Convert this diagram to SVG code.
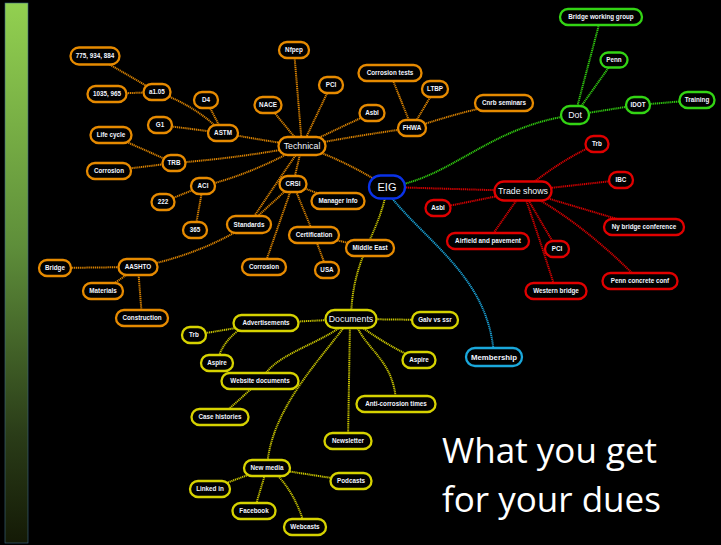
<svg xmlns="http://www.w3.org/2000/svg" width="721" height="545" viewBox="0 0 721 545">
<defs>
<linearGradient id="bar" x1="0" y1="0" x2="0" y2="1">
<stop offset="0" stop-color="#92d050"/>
<stop offset="0.45" stop-color="#5e8e3a"/>
<stop offset="0.8" stop-color="#2a3c18"/>
<stop offset="1" stop-color="#141a06"/>
</linearGradient>
<style>
.n rect{fill:#000;stroke-width:2.3}
.o rect{stroke:#e68a00}
.g rect{stroke:#33d414}
.r rect{stroke:#e00000}
.y rect{stroke:#d6d200}
.b rect{stroke:#0a32e8}
.c rect{stroke:#1aa8dc}
.n text{font-family:"Liberation Sans",Arial,sans-serif;font-weight:bold;font-size:6.3px;fill:#f2f5ff;text-anchor:middle}
.n text.big{font-weight:normal;font-size:8.8px}
.n text.eig{font-weight:normal;font-size:11px}
.n text.mem{font-size:7.8px}
#connectors path{fill:none;stroke-width:2;stroke-dasharray:1.2 0.7}
.co{stroke:#d98200}
.cg{stroke:#30c810}
.cr{stroke:#d40000}
.cy{stroke:#c8c400}
.cc{stroke:#1aa0d4}
.title{font-family:"Open Sans","Liberation Sans",sans-serif;font-size:35px;fill:#fff}
</style>
</defs>
<rect x="0" y="0" width="721" height="545" fill="#000"/>
<rect x="5" y="3" width="23" height="540" fill="url(#bar)" stroke="#3c6a86" stroke-width="0.6"/>
<g id="connectors">
<path class="co" d="M95,56 L157,92"/>
<path class="co" d="M107,94 L157,92"/>
<path class="co" d="M157,92 Q195,105 223,133"/>
<path class="co" d="M206,100 L223,133"/>
<path class="co" d="M160,125 L223,133"/>
<path class="co" d="M223,133 Q260,140 302,146"/>
<path class="co" d="M111,135 L174,163"/>
<path class="co" d="M109,171 L174,163"/>
<path class="co" d="M174,163 Q240,158 302,146"/>
<path class="co" d="M203,186 Q250,175 302,146"/>
<path class="co" d="M163,202 L203,186"/>
<path class="co" d="M195,230 L203,186"/>
<path class="co" d="M249,224 Q275,185 302,146"/>
<path class="co" d="M138,267 Q200,255 249,224"/>
<path class="co" d="M55,268 L138,267"/>
<path class="co" d="M103,291 L138,267"/>
<path class="co" d="M142,318 L138,267"/>
<path class="co" d="M294,50 L302,146"/>
<path class="co" d="M331,85 L302,146"/>
<path class="co" d="M268,105 L302,146"/>
<path class="co" d="M372,113 Q345,125 302,146"/>
<path class="co" d="M412,128 Q360,135 302,146"/>
<path class="co" d="M390,73 L412,128"/>
<path class="co" d="M435,89 L412,128"/>
<path class="co" d="M504,103 Q460,112 412,128"/>
<path class="co" d="M302,146 Q345,160 387,187"/>
<path class="co" d="M293,184 L302,146"/>
<path class="co" d="M338,201 L293,184"/>
<path class="co" d="M314,235 L293,184"/>
<path class="co" d="M264,267 L293,184"/>
<path class="co" d="M249,224 L293,184"/>
<path class="co" d="M370,248 L314,235"/>
<path class="co" d="M327,270 L314,235"/>
<path class="cg" d="M387,187 C450,180 490,125 575,115"/>
<path class="cg" d="M601,17 L575,115"/>
<path class="cg" d="M614,60 L575,115"/>
<path class="cg" d="M575,115 L638,105"/>
<path class="cg" d="M638,105 L697,100"/>
<path class="cr" d="M387,187 L523,191"/>
<path class="cr" d="M438,208 L523,191"/>
<path class="cr" d="M597,144 Q560,160 523,191"/>
<path class="cr" d="M621,180 L523,191"/>
<path class="cr" d="M644,227 L523,191"/>
<path class="cr" d="M488,241 L523,191"/>
<path class="cr" d="M557,249 L523,191"/>
<path class="cr" d="M556,291 Q540,240 523,191"/>
<path class="cr" d="M640,281 Q580,220 523,191"/>
<path class="cc" d="M391,197 C430,245 490,280 494,357"/>
<path class="cy" d="M385,198 C375,240 352,260 351,319"/>
<path class="cy" d="M351,319 L435,320"/>
<path class="cy" d="M266,323 L351,319"/>
<path class="cy" d="M194,335 L266,323"/>
<path class="cy" d="M217,363 Q222,338 250,323"/>
<path class="cy" d="M262,381 C270,355 320,345 347,322"/>
<path class="cy" d="M220,417 L260,381"/>
<path class="cy" d="M419,360 Q385,345 355,322"/>
<path class="cy" d="M396,404 C395,360 365,350 355,322"/>
<path class="cy" d="M348,441 L350,322"/>
<path class="cy" d="M267,468 C270,410 320,360 348,322"/>
<path class="cy" d="M210,489 L267,468"/>
<path class="cy" d="M254,511 L267,468"/>
<path class="cy" d="M305,527 Q295,490 270,468"/>
<path class="cy" d="M351,481 L267,468"/>
</g>
<g id="n1" class="n o"><rect x="70.5" y="47.5" width="49" height="17" rx="8.5"/><text x="95" y="58.2">775, 934, 884</text></g>
<g id="n2" class="n o"><rect x="87.5" y="86" width="39" height="16" rx="8"/><text x="107" y="96.2">1035, 965</text></g>
<g id="n3" class="n o"><rect x="143.5" y="84" width="27" height="16" rx="8"/><text x="157" y="94.2">a1.05</text></g>
<g id="n4" class="n o"><rect x="194" y="92" width="24" height="16" rx="8"/><text x="206" y="102.2">D4</text></g>
<g id="n5" class="n o"><rect x="148" y="117" width="24" height="16" rx="8"/><text x="160" y="127.2">G1</text></g>
<g id="n6" class="n o"><rect x="208" y="125" width="30" height="16" rx="8"/><text x="223" y="135.2">ASTM</text></g>
<g id="n7" class="n o"><rect x="90.5" y="127" width="41" height="16" rx="8"/><text x="111" y="137.2">Life cycle</text></g>
<g id="n8" class="n o"><rect x="162.5" y="155" width="23" height="16" rx="8"/><text x="174" y="165.2">TRB</text></g>
<g id="n9" class="n o"><rect x="87" y="163" width="44" height="16" rx="8"/><text x="109" y="173.2">Corrosion</text></g>
<g id="n10" class="n o"><rect x="191" y="178" width="24" height="16" rx="8"/><text x="203" y="188.2">ACI</text></g>
<g id="n11" class="n o"><rect x="151.5" y="194" width="23" height="16" rx="8"/><text x="163" y="204.2">222</text></g>
<g id="n12" class="n o"><rect x="183" y="222" width="24" height="16" rx="8"/><text x="195" y="232.2">365</text></g>
<g id="n13" class="n o"><rect x="227" y="216" width="44" height="17" rx="8.5"/><text x="249" y="226.7">Standards</text></g>
<g id="n14" class="n o"><rect x="118.5" y="259" width="39" height="16" rx="8"/><text x="138" y="269.2">AASHTO</text></g>
<g id="n15" class="n o"><rect x="39" y="260" width="32" height="16" rx="8"/><text x="55" y="270.2">Bridge</text></g>
<g id="n16" class="n o"><rect x="83" y="283" width="40" height="16" rx="8"/><text x="103" y="293.2">Materials</text></g>
<g id="n17" class="n o"><rect x="116" y="310" width="52" height="16" rx="8"/><text x="142" y="320.2">Construction</text></g>
<g id="n18" class="n o"><rect x="279" y="42" width="30" height="16" rx="8"/><text x="294" y="52.2">Nfpep</text></g>
<g id="n19" class="n o"><rect x="319" y="77" width="24" height="16" rx="8"/><text x="331" y="87.2">PCI</text></g>
<g id="n20" class="n o"><rect x="254.5" y="97" width="27" height="16" rx="8"/><text x="268" y="107.2">NACE</text></g>
<g id="n21" class="n o"><rect x="278.5" y="137" width="47" height="18" rx="9"/><text class="big" x="302" y="149.1">Technical</text></g>
<g id="n22" class="n o"><rect x="359.5" y="105" width="25" height="16" rx="8"/><text x="372" y="115.2">Asbl</text></g>
<g id="n23" class="n o"><rect x="358.5" y="65" width="63" height="16" rx="8"/><text x="390" y="75.2">Corrosion tests</text></g>
<g id="n24" class="n o"><rect x="422" y="81" width="26" height="16" rx="8"/><text x="435" y="91.2">LTBP</text></g>
<g id="n25" class="n o"><rect x="398" y="120" width="28" height="16" rx="8"/><text x="412" y="130.2">FHWA</text></g>
<g id="n26" class="n o"><rect x="475" y="95" width="58" height="16" rx="8"/><text x="504" y="105.2">Cnrb seminars</text></g>
<g id="n27" class="n o"><rect x="279.5" y="176" width="27" height="16" rx="8"/><text x="293" y="186.2">CRSI</text></g>
<g id="n28" class="n o"><rect x="311.5" y="193" width="53" height="16" rx="8"/><text x="338" y="203.2">Manager info</text></g>
<g id="n29" class="n o"><rect x="289" y="227" width="50" height="16" rx="8"/><text x="314" y="237.2">Certification</text></g>
<g id="n30" class="n o"><rect x="346" y="240" width="48" height="16" rx="8"/><text x="370" y="250.2">Middle East</text></g>
<g id="n31" class="n o"><rect x="242" y="259" width="44" height="16" rx="8"/><text x="264" y="269.2">Corrosion</text></g>
<g id="n32" class="n o"><rect x="315" y="262" width="24" height="16" rx="8"/><text x="327" y="272.2">USA</text></g>
<g id="eig" class="n b"><rect x="369" y="175.5" width="36" height="23" rx="11.5"/><text class="eig" x="387" y="190.9">EIG</text></g>
<g id="g1" class="n g"><rect x="560" y="9" width="82" height="16" rx="8"/><text x="601" y="19.2">Bridge working group</text></g>
<g id="g2" class="n g"><rect x="600.5" y="52.5" width="27" height="15" rx="7.5"/><text x="614" y="62.2">Penn</text></g>
<g id="g3" class="n g"><rect x="561" y="106" width="28" height="18" rx="9"/><text class="big" x="575" y="118.1">Dot</text></g>
<g id="g4" class="n g"><rect x="626" y="97" width="24" height="16" rx="8"/><text x="638" y="107.2">IDOT</text></g>
<g id="g5" class="n g"><rect x="679.5" y="92" width="35" height="16" rx="8"/><text x="697" y="102.2">Training</text></g>
<g id="r1" class="n r"><rect x="494.5" y="181.5" width="57" height="19" rx="9.5"/><text class="big" x="523" y="194.1">Trade shows</text></g>
<g id="r2" class="n r"><rect x="585.5" y="136" width="23" height="16" rx="8"/><text x="597" y="146.2">Trb</text></g>
<g id="r3" class="n r"><rect x="609" y="172" width="24" height="16" rx="8"/><text x="621" y="182.2">IBC</text></g>
<g id="r4" class="n r"><rect x="425.5" y="200" width="25" height="16" rx="8"/><text x="438" y="210.2">Asbl</text></g>
<g id="r5" class="n r"><rect x="604" y="219" width="80" height="16" rx="8"/><text x="644" y="229.2">Ny bridge conference</text></g>
<g id="r6" class="n r"><rect x="447" y="233" width="82" height="16" rx="8"/><text x="488" y="243.2">Airfield and pavement</text></g>
<g id="r7" class="n r"><rect x="545" y="241" width="24" height="16" rx="8"/><text x="557" y="251.2">PCI</text></g>
<g id="r8" class="n r"><rect x="602.5" y="273" width="75" height="16" rx="8"/><text x="640" y="283.2">Penn concrete conf</text></g>
<g id="r9" class="n r"><rect x="525.5" y="283" width="61" height="16" rx="8"/><text x="556" y="293.2">Western bridge</text></g>
<g id="mem" class="n c"><rect x="466" y="348" width="56" height="18" rx="9"/><text class="mem" x="494" y="359.7">Membership</text></g>
<g id="y1" class="n y"><rect x="325.5" y="310" width="51" height="18" rx="9"/><text class="big" x="351" y="322.1">Documents</text></g>
<g id="y2" class="n y"><rect x="233.5" y="315" width="65" height="16" rx="8"/><text x="266" y="325.2">Advertisements</text></g>
<g id="y3" class="n y"><rect x="412" y="312" width="46" height="16" rx="8"/><text x="435" y="322.2">Galv vs ssr</text></g>
<g id="y4" class="n y"><rect x="182" y="327" width="24" height="16" rx="8"/><text x="194" y="337.2">Trb</text></g>
<g id="y5" class="n y"><rect x="201" y="355" width="32" height="16" rx="8"/><text x="217" y="365.2">Aspire</text></g>
<g id="y6" class="n y"><rect x="402.5" y="352" width="33" height="16" rx="8"/><text x="419" y="362.2">Aspire</text></g>
<g id="y7" class="n y"><rect x="221.5" y="373" width="77" height="16" rx="8"/><text x="260" y="383.2">Website documents</text></g>
<g id="y8" class="n y"><rect x="356.5" y="396" width="79" height="16" rx="8"/><text x="396" y="406.2">Anti-corrosion times</text></g>
<g id="y9" class="n y"><rect x="191.5" y="409" width="57" height="16" rx="8"/><text x="220" y="419.2">Case histories</text></g>
<g id="y10" class="n y"><rect x="324.5" y="433" width="47" height="16" rx="8"/><text x="348" y="443.2">Newsletter</text></g>
<g id="y11" class="n y"><rect x="244" y="460" width="46" height="16" rx="8"/><text x="267" y="470.2">New media</text></g>
<g id="y12" class="n y"><rect x="330.5" y="473" width="41" height="16" rx="8"/><text x="351" y="483.2">Podcasts</text></g>
<g id="y13" class="n y"><rect x="190" y="481" width="40" height="16" rx="8"/><text x="210" y="491.2">Linked in</text></g>
<g id="y14" class="n y"><rect x="232.5" y="503" width="43" height="16" rx="8"/><text x="254" y="513.2">Facebook</text></g>
<g id="y15" class="n y"><rect x="284" y="519" width="42" height="16" rx="8"/><text x="305" y="529.2">Webcasts</text></g>
<text class="title" x="442" y="463">What you get</text>
<text class="title" x="442" y="512">for your dues</text>
</svg>
